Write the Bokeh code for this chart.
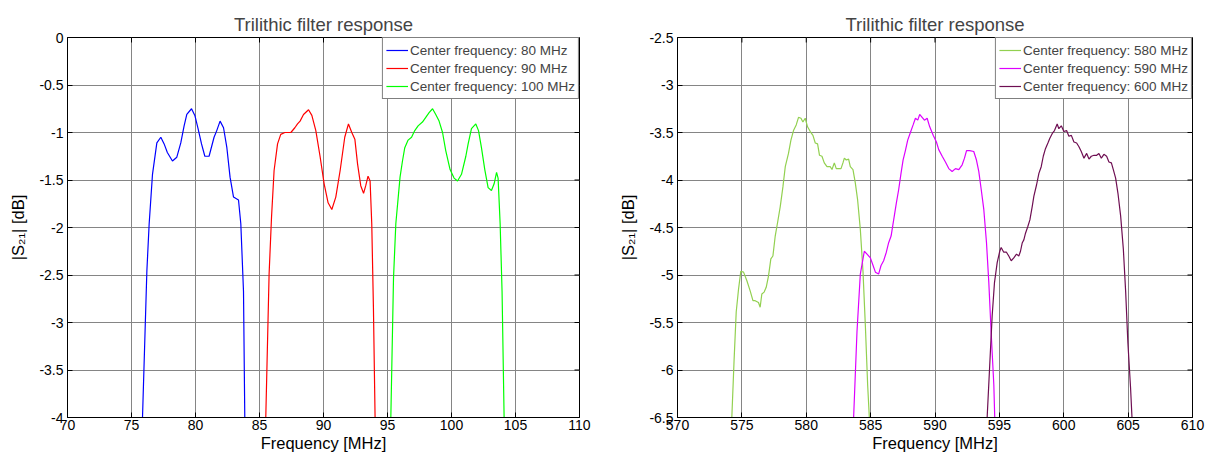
import math
from bokeh.plotting import figure
from bokeh.layouts import row
from bokeh.models import Range1d, FixedTicker
from bokeh.embed import file_html
from bokeh.resources import INLINE

# ---------------- data: left panel (MHz, dB) ----------------
f80 = [75.86, 76.2, 76.38, 76.64, 76.98, 77.29, 77.55, 77.8, 78.2, 78.54, 78.85, 79.11, 79.32, 79.69,
       79.95, 80.2, 80.47, 80.73, 81.06, 81.45, 81.66, 81.92, 82.19, 82.45, 82.7, 82.97, 83.36, 83.54,
       83.75, 83.85]
s80 = [-4, -2.46, -1.96, -1.44, -1.11, -1.05, -1.12, -1.21, -1.30, -1.26, -1.11, -0.93, -0.81, -0.75,
       -0.82, -0.96, -1.12, -1.25, -1.25, -1.05, -0.98, -0.88, -0.95, -1.16, -1.47, -1.68, -1.71, -1.96,
       -2.67, -4]

f90 = [85.49, 85.75, 85.94, 86.14, 86.41, 86.66, 86.98, 87.45, 87.76, 87.97, 88.17, 88.44, 88.83, 89.09,
       89.4, 89.73, 90.05, 90.36, 90.65, 90.96, 91.3, 91.66, 91.95, 92.21, 92.45, 92.66, 92.91, 93.13,
       93.3, 93.48, 93.64, 93.77, 93.9, 94.03]
s90 = [-4, -2.49, -1.89, -1.40, -1.12, -1.02, -1.0, -1.0, -0.95, -0.91, -0.88, -0.81, -0.76, -0.82,
       -0.98, -1.25, -1.54, -1.74, -1.81, -1.68, -1.40, -1.05, -0.91, -1.0, -1.07, -1.33, -1.56, -1.64,
       -1.56, -1.46, -1.51, -1.96, -2.84, -4]

f100 = [95.26, 95.47, 95.65, 95.98, 96.17, 96.35, 96.61, 96.88, 97.13, 97.39, 97.73, 97.99, 98.25, 98.52,
        98.77, 99.03, 99.3, 99.55, 99.89, 100.2, 100.47, 100.78, 101.12, 101.3, 101.56, 101.9, 102.11,
        102.34, 102.6, 102.86, 103.12, 103.33, 103.52, 103.64, 103.8, 103.95, 104.11]
s100 = [-4, -2.53, -1.96, -1.47, -1.30, -1.16, -1.08, -1.05, -0.98, -0.93, -0.89, -0.84, -0.79, -0.75,
        -0.81, -0.88, -1.0, -1.19, -1.39, -1.48, -1.51, -1.44, -1.25, -1.12, -0.96, -0.91, -0.98,
        -1.16, -1.39, -1.58, -1.61, -1.54, -1.42, -1.48, -1.96, -2.67, -4]

# ---------------- data: right panel (MHz, dB) ----------------
f580 = [574.22, 574.4, 574.56, 574.74, 574.92, 575.13, 575.39, 575.65, 575.86, 576.03, 576.29, 576.42,
        576.55, 576.73, 576.89, 577.07, 577.25, 577.41, 577.59, 577.77, 577.98, 578.19, 578.37, 578.62,
        578.81, 579.01, 579.22, 579.4, 579.59, 579.74, 579.92, 580.1, 580.31, 580.52, 580.7, 580.88,
        581.03, 581.22, 581.4, 581.61, 581.87, 582.0, 582.18, 582.33, 582.51, 582.7, 582.85, 582.96,
        583.11, 583.29, 583.42, 583.63, 583.81, 583.99, 584.2, 584.41, 584.59, 584.77, 584.9]
s580 = [-6.5, -5.88, -5.39, -5.15, -4.96, -4.97, -5.06, -5.17, -5.27, -5.27, -5.29, -5.34,
        -5.20, -5.18, -5.13, -5.01, -4.83, -4.80, -4.59, -4.45, -4.28, -4.07, -3.86, -3.72,
        -3.58, -3.48, -3.42, -3.34, -3.35, -3.39, -3.35, -3.44, -3.49, -3.53, -3.61, -3.62,
        -3.74, -3.75, -3.82, -3.86, -3.86, -3.89, -3.82, -3.88, -3.88, -3.88, -3.82, -3.77,
        -3.79, -3.78, -3.86, -3.89, -4.03, -4.21, -4.52, -4.97, -5.53, -6.16, -6.5]

f590 = [583.68, 583.94, 584.2, 584.51, 584.72, 584.98, 585.19, 585.37, 585.62, 585.81, 586.01, 586.22,
        586.4, 586.59, 586.79, 587.0, 587.18, 587.36, 587.52, 587.7, 587.88, 588.09, 588.3, 588.48,
        588.66, 588.81, 589.0, 589.18, 589.39, 589.59, 589.86, 590.11, 590.29, 590.56, 590.81, 591.07,
        591.33, 591.59, 591.85, 592.11, 592.29, 592.45, 592.7, 593.01, 593.22, 593.4, 593.59, 593.79,
        594.0, 594.18, 594.36, 594.57, 594.64]
s590 = [-6.5, -5.60, -4.99, -4.75, -4.78, -4.82, -4.90, -4.97, -4.99, -4.90, -4.85, -4.76,
        -4.66, -4.59, -4.42, -4.24, -4.10, -3.93, -3.79, -3.69, -3.58, -3.50, -3.42, -3.35,
        -3.37, -3.31, -3.34, -3.37, -3.35, -3.44, -3.53, -3.60, -3.68, -3.75, -3.81, -3.88,
        -3.91, -3.88, -3.89, -3.84, -3.77, -3.69, -3.69, -3.70, -3.79, -3.91, -4.10, -4.31,
        -4.66, -5.08, -5.60, -6.16, -6.5]

f600 = [594.05, 594.25, 594.44, 594.62, 594.83, 595.03, 595.14, 595.34, 595.55, 595.73, 595.92, 596.12,
        596.33, 596.51, 596.64, 596.78, 596.9, 597.03, 597.21, 597.37, 597.55, 597.68, 597.89, 598.07,
        598.25, 598.41, 598.58, 598.77, 598.92, 599.11, 599.28, 599.49, 599.62, 599.81, 600.01, 600.22,
        600.4, 600.59, 600.79, 601.0, 601.18, 601.36, 601.57, 601.78, 601.96, 602.14, 602.35, 602.56,
        602.73, 602.92, 603.12, 603.33, 603.51, 603.7, 603.85, 604.03, 604.21, 604.42, 604.63, 604.81,
        604.98, 605.19, 605.3]
s600 = [-6.5, -5.95, -5.43, -5.08, -4.87, -4.75, -4.71, -4.76, -4.76, -4.80, -4.85, -4.82,
        -4.78, -4.80, -4.75, -4.66, -4.63, -4.56, -4.49, -4.42, -4.28, -4.17, -4.05, -3.93,
        -3.86, -3.75, -3.67, -3.61, -3.56, -3.51, -3.48, -3.41, -3.46, -3.43, -3.49, -3.48,
        -3.54, -3.53, -3.60, -3.61, -3.65, -3.70, -3.77, -3.72, -3.78, -3.75, -3.74, -3.74,
        -3.72, -3.77, -3.73, -3.75, -3.81, -3.82, -3.89, -3.98, -4.14, -4.38, -4.73, -5.18,
        -5.71, -6.19, -6.5]

left_xticks = [70, 75, 80, 85, 90, 95, 100, 105, 110]
left_yticks = [0, -0.5, -1, -1.5, -2, -2.5, -3, -3.5, -4]
left_ylabels = ["0", "-0.5", "-1", "-1.5", "-2", "-2.5", "-3", "-3.5", "-4"]
right_xticks = [570, 575, 580, 585, 590, 595, 600, 605, 610]
right_yticks = [-2.5, -3, -3.5, -4, -4.5, -5, -5.5, -6, -6.5]
right_ylabels = ["-2.5", "-3", "-3.5", "-4", "-4.5", "-5", "-5.5", "-6", "-6.5"]

left_series = [(f80, s80, "Center frequency: 80 MHz", "#0000ff"),
               (f90, s90, "Center frequency: 90 MHz", "#ff0000"),
               (f100, s100, "Center frequency: 100 MHz", "#00ff00")]
right_series = [(f580, s580, "Center frequency: 580 MHz", "#92d050"),
                (f590, s590, "Center frequency: 590 MHz", "#dd00ff"),
                (f600, s600, "Center frequency: 600 MHz", "#6e0e52")]

FONT = "Liberation Sans"


def make_panel(width, bl, br, bb, xticks, yticks, ylabels, series):
    p = figure(width=width, height=455,
               x_range=Range1d(xticks[0], xticks[-1]),
               y_range=Range1d(yticks[-1], yticks[0]),
               output_backend="svg", toolbar_location=None,
               min_border_left=bl, min_border_right=br,
               min_border_top=37, min_border_bottom=bb,
               title="Trilithic filter response")
    p.title.align = "center"
    p.title.text_font = FONT
    p.title.text_font_size = "18.5px"
    p.title.text_font_style = "normal"
    p.title.standoff = 6
    p.outline_line_color = "black"
    p.outline_line_width = 1
    p.background_fill_color = "white"
    p.border_fill_color = "white"

    for ax in (p.xaxis[0], p.yaxis[0]):
        ax.major_tick_in = 5
        ax.major_tick_out = 0
        ax.minor_tick_in = 0
        ax.minor_tick_out = 0
        ax.axis_line_color = "black"
        ax.major_tick_line_color = "black"
        ax.major_label_text_font = FONT
        ax.major_label_text_font_size = "14px"
        ax.major_label_text_color = "black"
        ax.axis_label_text_font = FONT
        ax.axis_label_text_font_size = "16.5px"
        ax.axis_label_text_font_style = "normal"
        ax.axis_label_text_color = "black"
    p.xaxis[0].ticker = FixedTicker(ticks=xticks)
    p.yaxis[0].ticker = FixedTicker(ticks=yticks)
    p.yaxis[0].major_label_overrides = {t: s for t, s in zip(yticks, ylabels)}
    p.xaxis[0].axis_label = "Frequency [MHz]"
    p.yaxis[0].axis_label = "|S\u2082\u2081| [dB]"
    p.xaxis[0].major_label_standoff = 2
    p.xaxis[0].axis_label_standoff = 1
    p.yaxis[0].major_label_standoff = 4
    p.yaxis[0].axis_label_standoff = 9

    p.xgrid.ticker = FixedTicker(ticks=xticks)
    p.ygrid.ticker = FixedTicker(ticks=yticks)
    p.xgrid.grid_line_color = "#858585"
    p.ygrid.grid_line_color = "#858585"
    p.xgrid.grid_line_width = 1
    p.ygrid.grid_line_width = 1

    # inward tick marks on the top and right frame edges (MATLAB box style)
    inner_x = xticks[1:-1]
    inner_y = yticks[1:-1]
    p.scatter(inner_x, [yticks[0]] * len(inner_x), marker="dash", angle=math.pi / 2,
              size=10, line_color="black", line_width=1)
    p.scatter([xticks[-1]] * len(inner_y), inner_y, marker="dash",
              size=10, line_color="black", line_width=1)

    for xs, ys, lab, col in series:
        p.line(xs, ys, line_color=col, line_width=1.2, legend_label=lab)

    lg = p.legend[0]
    lg.location = "top_right"
    lg.margin = 0
    lg.padding = 3
    lg.spacing = 0
    lg.border_line_color = "black"
    lg.border_line_width = 1
    lg.background_fill_color = "white"
    lg.background_fill_alpha = 1
    lg.label_text_font = FONT
    lg.label_text_font_size = "13.5px"
    lg.label_height = 18
    lg.glyph_height = 18
    lg.glyph_width = 22
    lg.label_standoff = 2
    return p


p1 = make_panel(605, 67, 26, 38, left_xticks, left_yticks, left_ylabels, left_series)
p2 = make_panel(604, 72, 17, 36, right_xticks, right_yticks, right_ylabels, right_series)

layout = row(p1, p2)
open("out.html", "w").write(file_html(layout, INLINE))
